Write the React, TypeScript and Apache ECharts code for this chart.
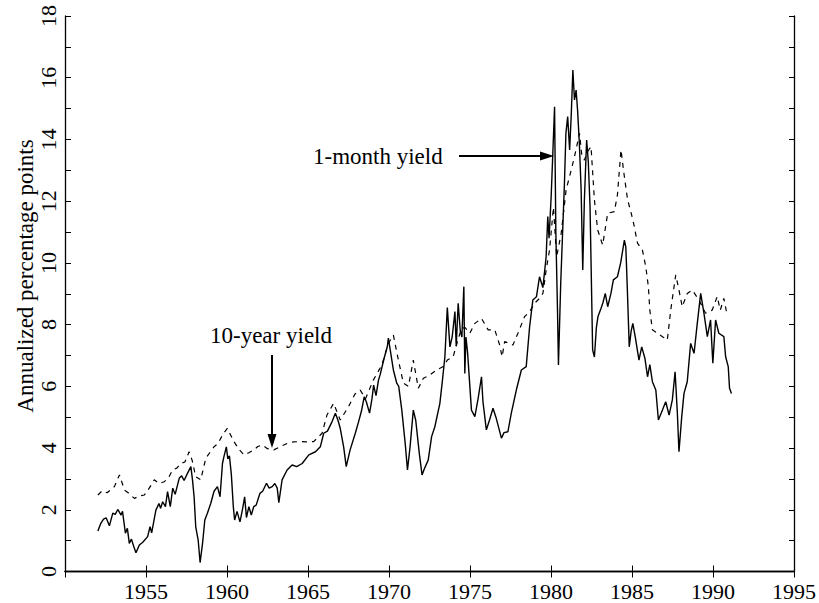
import React, { useEffect, useRef } from "react";
import * as echarts from "echarts";

const xTickYears = [1955, 1960, 1965, 1970, 1975, 1980, 1985, 1990, 1995];
const yTicks = [0, 2, 4, 6, 8, 10, 12, 14, 16, 18];

const oneMonthYears = [
  1952.03, 1952.2, 1952.38, 1952.54, 1952.74, 1952.95, 1953.1, 1953.26, 1953.46, 1953.55,
  1953.73, 1953.85, 1953.97, 1954.1, 1954.25, 1954.38, 1954.5, 1954.59, 1954.8, 1955.1,
  1955.25, 1955.35, 1955.61, 1955.8, 1955.9, 1956.03, 1956.2, 1956.33, 1956.5, 1956.65,
  1956.8, 1957.05, 1957.2, 1957.35, 1957.56, 1957.77, 1957.87, 1957.97, 1958.07, 1958.22,
  1958.34, 1958.49, 1958.63, 1958.79, 1959.0, 1959.2, 1959.41, 1959.57, 1959.72, 1959.8,
  1959.96, 1960.05, 1960.15, 1960.27, 1960.39, 1960.47, 1960.62, 1960.8, 1960.95, 1961.09,
  1961.2, 1961.35, 1961.5, 1961.65, 1961.8, 1962.03, 1962.2, 1962.44, 1962.6, 1962.79,
  1962.95, 1963.1, 1963.2, 1963.4, 1963.71, 1964.02, 1964.3, 1964.64, 1965.05, 1965.46,
  1965.76, 1965.97, 1966.2, 1966.48, 1966.69, 1966.85, 1966.99, 1967.2, 1967.36, 1967.6,
  1967.92, 1968.12, 1968.3, 1968.47, 1968.6, 1968.8, 1968.95, 1969.05, 1969.2, 1969.35,
  1969.45, 1969.7, 1969.9, 1969.96, 1970.1, 1970.27, 1970.48, 1970.6, 1970.79, 1971.0,
  1971.14, 1971.3, 1971.5, 1971.65, 1971.87, 1972.04, 1972.2, 1972.42, 1972.63, 1972.83,
  1973.14, 1973.3, 1973.45, 1973.6, 1973.76, 1973.9, 1974.07, 1974.15, 1974.27, 1974.4,
  1974.5, 1974.62, 1974.68, 1974.75, 1974.85, 1975.09, 1975.3, 1975.5, 1975.71, 1975.8,
  1976.01, 1976.2, 1976.42, 1976.6, 1976.94, 1977.1, 1977.34, 1977.55, 1977.86, 1978.17,
  1978.47, 1978.68, 1978.88, 1979.1, 1979.29, 1979.5, 1979.7, 1979.8, 1979.88, 1980.01,
  1980.12, 1980.22, 1980.3, 1980.4, 1980.46, 1980.6, 1980.83, 1980.92, 1981.03, 1981.15,
  1981.25, 1981.35, 1981.45, 1981.55, 1981.64, 1981.75, 1981.86, 1981.96, 1982.06, 1982.2,
  1982.3, 1982.41, 1982.57, 1982.68, 1982.8, 1982.9, 1983.05, 1983.2, 1983.35, 1983.5,
  1983.7, 1983.85, 1984.1, 1984.3, 1984.53, 1984.62, 1984.7, 1984.83, 1984.95, 1985.05,
  1985.2, 1985.43, 1985.6, 1985.8, 1985.96, 1986.1, 1986.26, 1986.47, 1986.63, 1986.88,
  1987.08, 1987.29, 1987.49, 1987.66, 1987.8, 1987.9, 1988.07, 1988.21, 1988.41, 1988.62,
  1988.83, 1989.03, 1989.24, 1989.44, 1989.65, 1989.85, 1989.99, 1990.16, 1990.36, 1990.67,
  1990.78, 1990.94, 1991.02, 1991.14,
];
const oneMonthValues = [
  1.31, 1.55, 1.7, 1.74, 1.48, 1.89, 1.85, 2.01, 1.83, 1.95,
  1.24, 1.4, 0.91, 1.05, 0.8, 0.61, 0.75, 0.86, 0.95, 1.13,
  1.45, 1.25, 1.99, 2.2, 2.05, 2.26, 2.1, 2.59, 2.1, 2.7,
  2.5, 3.02, 3.1, 2.95, 3.18, 3.4, 2.97, 2.42, 1.45, 1.02,
  0.29, 0.91, 1.67, 1.89, 2.21, 2.6, 2.75, 2.42, 3.5, 3.7,
  4.04, 3.65, 3.75, 3.13, 2.1, 1.67, 1.95, 1.61, 2.0, 2.42,
  1.75, 2.1, 1.83, 2.1, 2.15, 2.53, 2.6, 2.86, 2.7, 2.75,
  2.85, 2.7, 2.23, 2.97, 3.29, 3.45, 3.4, 3.5, 3.78, 3.88,
  4.04, 4.48, 4.55, 4.85, 5.13, 4.9, 4.64, 4.04, 3.4, 3.94,
  4.48, 4.85, 5.2, 5.66, 5.5, 5.13, 5.6, 6.04, 5.7, 6.2,
  6.37, 6.91, 7.3, 7.56, 7.1, 6.53, 6.1, 6.0, 5.23, 4.15,
  3.29, 4.04, 5.23, 4.9, 3.83, 3.13, 3.35, 3.61, 4.37, 4.69,
  5.45, 6.2, 6.96, 8.55, 7.28, 7.6, 8.42, 7.3, 8.69, 7.8,
  7.6, 9.23, 6.42, 7.6, 7.1, 5.23, 5.02, 5.6, 6.31, 5.5,
  4.59, 4.9, 5.29, 5.0, 4.32, 4.5, 4.53, 5.13, 5.88, 6.53,
  6.64, 7.93, 8.8, 8.9, 9.55, 9.2, 10.2, 11.5, 10.8, 12.15,
  13.66, 15.06, 10.96, 8.5, 6.69, 9.34, 12.58, 14.2, 14.74, 13.66,
  14.8, 16.25, 15.28, 15.6, 14.95, 13.88, 12.36, 9.77, 12.04, 13.98,
  13.3, 11.82, 7.18, 6.95, 7.9, 8.26, 8.47, 8.7, 9.01, 8.58,
  9.01, 9.45, 9.55, 10.0, 10.74, 10.5, 9.34, 7.28, 7.8, 8.04,
  7.6, 6.85, 7.28, 6.9, 6.31, 6.7, 6.15, 5.88, 4.91, 5.23,
  5.5, 5.07, 5.56, 6.47, 5.13, 3.88, 5.02, 5.77, 6.15, 7.39,
  7.07, 8.04, 9.01, 8.37, 7.61, 8.15, 6.75, 8.15, 7.72, 7.61,
  6.96, 6.64, 5.94, 5.77,
];

const tenYearYears = [
  1952.03, 1952.3, 1952.6, 1953.05, 1953.36, 1953.67, 1953.9, 1954.28, 1954.6, 1954.9,
  1955.2, 1955.51, 1955.8, 1956.13, 1956.4, 1956.64, 1956.9, 1957.15, 1957.4, 1957.66,
  1957.85, 1958.07, 1958.38, 1958.69, 1959.0, 1959.2, 1959.45, 1959.72, 1960.02, 1960.2,
  1960.43, 1960.75, 1961.05, 1961.35, 1961.66, 1961.9, 1962.18, 1962.5, 1962.89, 1963.3,
  1963.71, 1964.1, 1964.53, 1964.9, 1965.35, 1965.87, 1966.17, 1966.58, 1966.99, 1967.5,
  1967.9, 1968.22, 1968.55, 1969.04, 1969.56, 1969.96, 1970.27, 1970.58, 1970.89, 1971.2,
  1971.5, 1971.81, 1972.12, 1972.53, 1972.94, 1973.35, 1973.6, 1973.96, 1974.2, 1974.47,
  1974.7, 1974.99, 1975.3, 1975.71, 1976.12, 1976.53, 1976.83, 1976.98, 1977.14, 1977.65,
  1977.96, 1978.37, 1978.68, 1979.0, 1979.29, 1979.5, 1979.7, 1979.91, 1980.15, 1980.35,
  1980.63, 1980.93, 1981.14, 1981.45, 1981.76, 1981.9, 1982.06, 1982.25, 1982.47, 1982.68,
  1982.88, 1983.05, 1983.19, 1983.5, 1983.91, 1984.1, 1984.32, 1984.53, 1984.73, 1984.95,
  1985.1, 1985.34, 1985.64, 1985.85, 1986.01, 1986.1, 1986.26, 1986.57, 1986.88, 1987.18,
  1987.39, 1987.7, 1987.9, 1988.1, 1988.41, 1988.72, 1989.13, 1989.54, 1989.95, 1990.26,
  1990.45, 1990.67, 1990.87,
];
const tenYearValues = [
  2.48, 2.62, 2.55, 2.75, 3.13, 2.64, 2.55, 2.37, 2.45, 2.48,
  2.7, 2.97, 2.85, 2.91, 3.05, 3.29, 3.35, 3.5, 3.55, 3.88,
  3.6, 3.07, 2.97, 3.67, 3.9, 4.04, 4.15, 4.42, 4.64, 4.45,
  4.21, 3.95, 3.78, 3.85, 3.94, 4.05, 4.1, 3.98, 3.94, 4.05,
  4.15, 4.2, 4.21, 4.2, 4.21, 4.48, 5.07, 5.45, 4.91, 5.34,
  5.75, 5.88, 5.6, 6.21, 6.69, 7.39, 7.66, 6.85, 6.1, 6.0,
  6.85, 5.94, 6.26, 6.37, 6.53, 6.64, 6.85, 6.96, 7.4, 7.88,
  7.9, 7.72, 8.04, 8.2, 7.83, 7.83, 7.34, 6.96, 7.45, 7.34,
  7.72, 8.26, 8.42, 8.7, 8.85, 9.01, 9.77, 10.42, 11.8, 10.2,
  10.96, 12.36, 12.79, 13.44, 14.2, 13.5, 13.33, 13.6, 13.77, 12.04,
  11.07, 10.8, 10.58, 11.61, 11.66, 12.2, 13.66, 12.79, 12.04, 11.61,
  11.28, 10.64, 10.42, 9.88, 9.23, 8.47, 7.83, 7.72, 7.61, 7.5,
  8.47, 9.61, 9.12, 8.58, 9.01, 9.12, 8.8, 8.37, 8.47, 8.91,
  8.47, 8.85, 8.31,
];

const FONT = '"Liberation Serif", "DejaVu Serif", serif';

export default function App() {
  const ref = useRef<HTMLDivElement>(null);
  useEffect(() => {
    if (!ref.current) return;
    const chart = echarts.init(ref.current, null, { renderer: "svg" });
    const oneMonth = oneMonthYears.map((y, i) => [y, oneMonthValues[i]]);
    const tenYear = tenYearYears.map((y, i) => [y, tenYearValues[i]]);
    const xMin = 1950;
    const xMax = xTickYears[xTickYears.length - 1];
    const yMax = yTicks[yTicks.length - 1];
    chart.setOption({
      animation: false,
      backgroundColor: "#ffffff",
      grid: { left: 65, right: 22, top: 16, bottom: 31.5 },
      xAxis: [
        {
          type: "value",
          min: xMin,
          max: xMax,
          interval: 5,
          axisLine: { show: true, lineStyle: { color: "#000", width: 1.3 } },
          axisTick: { show: true, inside: true, length: 6, lineStyle: { color: "#000" } },
          axisLabel: {
            margin: 9,
            color: "#000",
            fontFamily: FONT,
            fontSize: 22,
            formatter: (v: number) => (xTickYears.includes(v) ? String(v) : ""),
          },
          splitLine: { show: false },
        },
        {
          type: "value",
          position: "top",
          min: xMin,
          max: xMax,
          interval: 5,
          axisLine: { show: true, lineStyle: { color: "#000", width: 1.3 } },
          axisTick: { show: true, inside: true, length: 6, lineStyle: { color: "#000" } },
          axisLabel: { show: false },
          splitLine: { show: false },
        },
      ],
      yAxis: [
        {
          type: "value",
          min: 0,
          max: yMax,
          interval: 2,
          axisLine: { show: true, lineStyle: { color: "#000", width: 1.3 } },
          axisTick: { show: true, inside: true, length: 6, lineStyle: { color: "#000" } },
          minorTick: { show: true, splitNumber: 2, length: 6, lineStyle: { color: "#000" } },
          axisLabel: { show: false },
          splitLine: { show: false },
          minorSplitLine: { show: false },
        },
        {
          type: "value",
          position: "right",
          min: 0,
          max: yMax,
          interval: 1,
          axisLine: { show: true, lineStyle: { color: "#000", width: 1.3 } },
          axisTick: { show: true, inside: true, length: 5, lineStyle: { color: "#000" } },
          axisLabel: { show: false },
          splitLine: { show: false },
        },
      ],
      series: [
        {
          name: "1-month yield",
          type: "line",
          data: oneMonth,
          showSymbol: false,
          symbol: "none",
          lineStyle: { color: "#000", width: 1.4 },
          z: 3,
        },
        {
          name: "10-year yield",
          type: "line",
          data: tenYear,
          showSymbol: false,
          symbol: "none",
          lineStyle: { color: "#000", width: 1.2, type: [5, 5] },
          z: 2,
        },
      ],
    });

    const yLabelEls = yTicks.map((v) => {
      const py = chart.convertToPixel({ yAxisIndex: 0 }, v) as number;
      return {
        type: "text",
        x: 48,
        y: py,
        rotation: Math.PI / 2,
        style: {
          text: String(v),
          fill: "#000",
          font: `22px ${FONT}`,
          align: "center",
          verticalAlign: "middle",
        },
      };
    });

    chart.setOption({
      graphic: [
        ...yLabelEls,
        {
          type: "text",
          x: 25,
          y: 276,
          rotation: Math.PI / 2,
          style: {
            text: "Annualized percentage points",
            fill: "#000",
            font: `23px ${FONT}`,
            align: "center",
            verticalAlign: "middle",
          },
        },
        {
          type: "text",
          left: 313,
          top: 145,
          style: { text: "1-month yield", fill: "#000", font: `23px ${FONT}` },
        },
        {
          type: "line",
          shape: { x1: 459, y1: 156, x2: 542, y2: 156 },
          style: { stroke: "#000", lineWidth: 2 },
        },
        {
          type: "polygon",
          shape: { points: [[540, 151.5], [554, 156], [540, 160.5]] },
          style: { fill: "#000" },
        },
        {
          type: "text",
          left: 210,
          top: 324,
          style: { text: "10-year yield", fill: "#000", font: `23px ${FONT}` },
        },
        {
          type: "line",
          shape: { x1: 272, y1: 355, x2: 272, y2: 436 },
          style: { stroke: "#000", lineWidth: 2 },
        },
        {
          type: "polygon",
          shape: { points: [[267.5, 434], [272, 448], [276.5, 434]] },
          style: { fill: "#000" },
        },
      ],
    });
    return () => chart.dispose();
  }, []);
  return (
    <div
      ref={ref}
      style={{ position: "absolute", left: 0, top: 0, width: 819, height: 603, background: "#fff" }}
    />
  );
}
